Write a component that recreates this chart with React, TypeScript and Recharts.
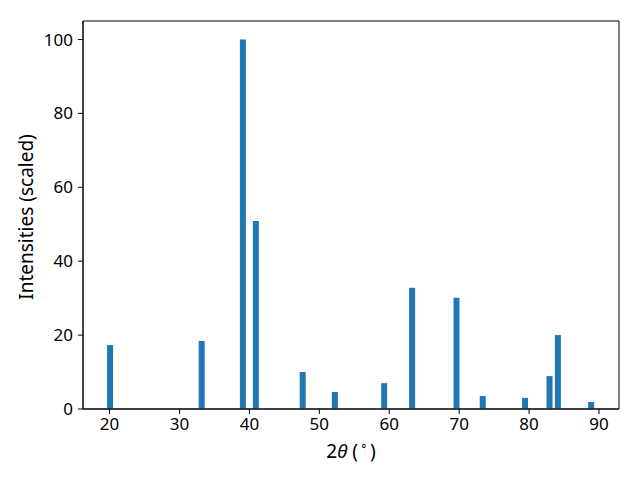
import React from "react";
import { BarChart, Bar, XAxis, YAxis, ReferenceArea } from "recharts";

const twoTheta = [20.1, 33.2, 39.1, 40.95, 47.65, 52.25, 59.3, 63.3, 69.65, 73.4, 79.45, 82.95, 84.15, 88.9];
const intensities = [17.3, 18.4, 100, 50.9, 10.0, 4.6, 7.0, 32.8, 30.1, 3.5, 3.0, 8.9, 20.0, 1.9];
const xTicks = [20, 30, 40, 50, 60, 70, 80, 90];
const yTicks = [0, 20, 40, 60, 80, 100];
const xDomain: [number, number] = [16.2, 92.86];
const yDomain: [number, number] = [0, 105];

const data = twoTheta.map((t, i) => ({ t, v: intensities[i] }));

const FONT = "Noto Sans";

const XLabel = (props: any) => {
  const vb = props.viewBox || {};
  const cx = vb.x + vb.width / 2;
  const y = vb.y + 49;
  return (
    <text x={cx} y={y} textAnchor="middle" fontFamily={FONT} fontSize={19} fill="#000">
      <tspan>2</tspan>
      <tspan fontStyle="italic">θ</tspan>
      <tspan> (</tspan>
      <tspan fontSize={12} dy={-8}>{"\u2009∘\u2009"}</tspan>
      <tspan dy={8}>)</tspan>
    </text>
  );
};

const YLabel = (props: any) => {
  const vb = props.viewBox || {};
  const cy = vb.y + vb.height / 2 + 2;
  const x = 33;
  return (
    <text x={x} y={cy} textAnchor="middle" fontFamily={FONT} fontSize={19} fill="#000" transform={`rotate(-90 ${x} ${cy})`}>
      Intensities (scaled)
    </text>
  );
};

export default function App() {
  return (
    <div style={{ position: "absolute", left: 0, top: 0, background: "#fff" }}>
      <BarChart width={640} height={480} data={data} margin={{ top: 21, right: 21, left: 0, bottom: 0 }}>
        <XAxis
          xAxisId="b"
          dataKey="t"
          type="number"
          domain={xDomain}
          allowDataOverflow
          ticks={xTicks}
          interval={0}
          height={71}
          tickSize={5}
          tickMargin={4}
          stroke="#000"
          tick={{ fill: "#000", fontFamily: FONT, fontSize: 17 }}
          label={<XLabel />}
        />
        <YAxis
          yAxisId="l"
          type="number"
          domain={yDomain}
          allowDataOverflow
          ticks={yTicks}
          interval={0}
          width={83}
          tickSize={5}
          tickMargin={5}
          stroke="#000"
          tick={{ fill: "#000", fontFamily: FONT, fontSize: 17 }}
          label={<YLabel />}
        />
        <ReferenceArea
          xAxisId="b"
          yAxisId="l"
          x1={xDomain[0]}
          x2={xDomain[1]}
          y1={yDomain[0]}
          y2={yDomain[1]}
          fill="none"
          fillOpacity={0}
          stroke="#000"
          strokeWidth={1}
          ifOverflow="visible"
        />
        <Bar xAxisId="b" yAxisId="l" dataKey="v" fill="#1f77b4" barSize={6} isAnimationActive={false} />
      </BarChart>
    </div>
  );
}
